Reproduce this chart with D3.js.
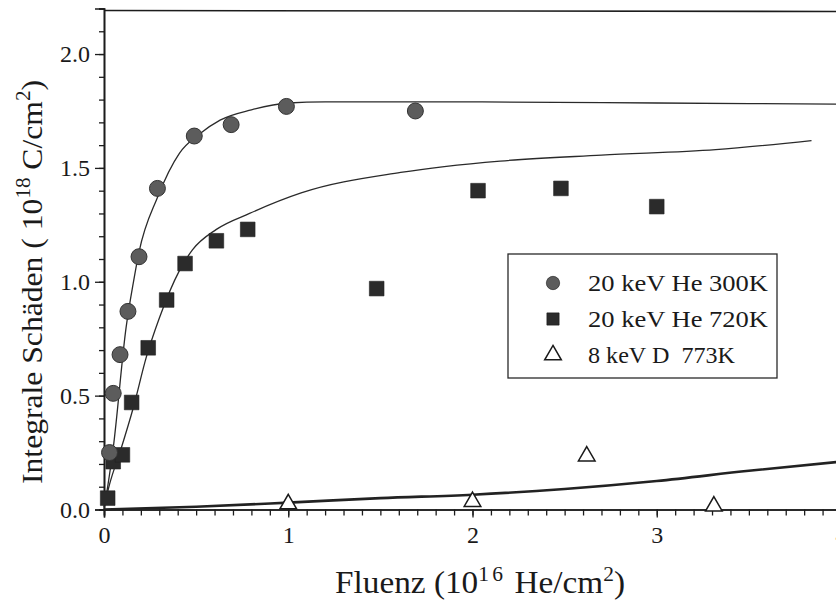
<!DOCTYPE html>
<html><head><meta charset="utf-8">
<script src="https://cdn.jsdelivr.net/npm/d3@7/dist/d3.min.js"></script>
<style>
html,body{margin:0;padding:0;background:#fff;}
svg{display:block;}
text{font-family:"Liberation Serif","Times New Roman",serif;fill:#1a1a1a;}
</style></head>
<body>
<svg id="chart" width="836" height="603"></svg>
<script>
// ---- data ----
const seriesNames = ["20 keV He 300K", "20 keV He 720K", "8 keV D  773K"];

const he300X = [0.03, 0.05, 0.087, 0.13, 0.19, 0.29, 0.49, 0.69, 0.99, 1.69];
const he300Y = [0.25, 0.51, 0.68, 0.87, 1.11, 1.41, 1.64, 1.69, 1.77, 1.75];

const he720X = [0.02, 0.05, 0.10, 0.15, 0.24, 0.34, 0.44, 0.61, 0.78, 1.48, 2.03, 2.48, 3.0];
const he720Y = [0.05, 0.21, 0.24, 0.47, 0.71, 0.92, 1.08, 1.18, 1.23, 0.97, 1.40, 1.41, 1.33];

const d773X = [1.0, 2.0, 2.62, 3.31];
const d773Y = [0.02, 0.03, 0.23, 0.01];

const fit300X = [0, 0.02, 0.05, 0.12, 0.16, 0.19, 0.29, 0.41, 0.52, 0.63, 0.8, 1.0, 1.2, 2.0, 3.0, 4.0];
const fit300Y = [0, 0.10, 0.27, 0.80, 1.00, 1.13, 1.37, 1.565, 1.65, 1.71, 1.755, 1.785, 1.79, 1.79, 1.785, 1.78];

const fit720X = [0, 0.03, 0.09, 0.16, 0.23, 0.30, 0.41, 0.48, 0.61, 0.79, 1.07, 1.61, 2.15, 2.70, 3.32, 3.84];
const fit720Y = [0.01, 0.11, 0.26, 0.45, 0.67, 0.84, 1.05, 1.14, 1.23, 1.30, 1.39, 1.48, 1.53, 1.556, 1.58, 1.62];

const fitDX = [0, 0.5, 1.0, 1.5, 2.0, 2.5, 3.0, 3.5, 4.0];
const fitDY = [0, 0.012, 0.03, 0.05, 0.065, 0.09, 0.125, 0.17, 0.21];

const xMajorTicks = [0, 1, 2, 3, 4];
const yMajorTicks = [0.0, 0.5, 1.0, 1.5, 2.0];

// ---- layout ----
const FONT = '"Liberation Serif","Times New Roman",serif';
const svg = d3.select("#chart");
const x = d3.scaleLinear().domain([0, 4]).range([104, 841]);
const y = d3.scaleLinear().domain([0, 2.2]).range([509.5, 8.5]);

const ink = "#1c1c1c";

// top frame line
svg.append("line").attr("x1", x(0)).attr("x2", 836).attr("y1", y(2.2)+2).attr("y2", y(2.2)+3)
  .attr("stroke", ink).attr("stroke-width", 1.6);

// x axis
const xMinor = d3.range(0, 41).map(i => i / 10);
const gx = svg.append("g").attr("transform", `translate(0,${y(0)})`);
gx.call(d3.axisBottom(x).tickValues(xMinor).tickSize(6).tickFormat(""));
gx.append("g").call(d3.axisBottom(x).tickValues(xMajorTicks).tickSize(8).tickFormat(d3.format("d")).tickPadding(8));
gx.selectAll("path").attr("stroke", ink).attr("stroke-width", 1.6);
gx.selectAll("line").attr("stroke", ink).attr("stroke-width", 1.3);
gx.selectAll("g").attr("font-family", FONT);
gx.selectAll("text").attr("font-size", 24).attr("font-family", FONT).style("font-family", FONT).attr("fill", ink);

// y axis
const yMinor = d3.range(0, 23).map(i => i / 10);
const gy = svg.append("g").attr("transform", `translate(${x(0)},0)`);
gy.call(d3.axisLeft(y).tickValues(yMinor).tickSize(5).tickFormat(""));
gy.append("g").call(d3.axisLeft(y).tickValues(yMajorTicks).tickSize(9).tickFormat(d3.format(".1f")).tickPadding(5));
gy.selectAll("path").attr("stroke", ink).attr("stroke-width", 1.6);
gy.selectAll("line").attr("stroke", ink).attr("stroke-width", 1.3);
gy.selectAll("g").attr("font-family", FONT);
gy.selectAll("text").attr("font-size", 24).attr("font-family", FONT).style("font-family", FONT).attr("fill", ink);

// fit lines
const line = d3.line().x(d => x(d[0])).y(d => y(d[1])).curve(d3.curveMonotoneX);
const zip = (a, b) => a.map((v, i) => [v, b[i]]);
svg.append("path").datum(zip(fit300X, fit300Y)).attr("d", line)
  .attr("fill", "none").attr("stroke", "#2a2a2a").attr("stroke-width", 1.3);
svg.append("path").datum(zip(fit720X, fit720Y)).attr("d", line)
  .attr("fill", "none").attr("stroke", "#2a2a2a").attr("stroke-width", 1.3);
svg.append("path").datum(zip(fitDX, fitDY)).attr("d", line)
  .attr("fill", "none").attr("stroke", "#222").attr("stroke-width", 2.6);

// markers
const circ = d3.symbol().type(d3.symbolCircle).size(200);
const sq = d3.symbol().type(d3.symbolSquare).size(215);
const tri = d3.symbol().type(d3.symbolTriangle).size(120);

svg.append("g").selectAll("path").data(zip(he720X, he720Y)).join("path")
  .attr("d", sq).attr("transform", d => `translate(${x(d[0])},${y(d[1])})`)
  .attr("fill", "#2b2b2b").attr("stroke", "#222").attr("stroke-width", 0.6);
svg.append("g").selectAll("path").data(zip(he300X, he300Y)).join("path")
  .attr("d", circ).attr("transform", d => `translate(${x(d[0])},${y(d[1])})`)
  .attr("fill", "#5c5c5c").attr("stroke", "#333").attr("stroke-width", 1);
svg.append("g").selectAll("path").data(zip(d773X, d773Y)).join("path")
  .attr("d", tri).attr("transform", d => `translate(${x(d[0])},${y(d[1]) - 1})`)
  .attr("fill", "#fff").attr("stroke", "#1a1a1a").attr("stroke-width", 1.5);

// legend
const lg = svg.append("g");
lg.append("rect").attr("x", 508).attr("y", 254).attr("width", 269).attr("height", 124)
  .attr("fill", "#fff").attr("stroke", "#2a2a2a").attr("stroke-width", 1.3);
const legFill = ["#5c5c5c", "#2b2b2b", "#fff"];
const legSym = [d3.symbol().type(d3.symbolCircle).size(140), d3.symbol().type(d3.symbolSquare).size(150), tri];
const legLen = [180, 180, 147];
seriesNames.forEach((name, i) => {
  const cy = 283 + i * 36;
  lg.append("path").attr("d", legSym[i]())
    .attr("transform", `translate(553,${cy})`)
    .attr("fill", legFill[i]).attr("stroke", "#1a1a1a").attr("stroke-width", i === 2 ? 1.5 : 0.6);
  lg.append("text").attr("x", 588).attr("y", cy + 8).attr("font-size", 24)
    .attr("font-family", FONT)
    .attr("textLength", legLen[i]).attr("lengthAdjust", "spacingAndGlyphs")
    .attr("xml:space", "preserve").text(name);
});

// axis titles
const xt = svg.append("text").attr("x", 335).attr("y", 593).attr("font-size", 31)
  .attr("font-family", FONT).attr("textLength", 290).attr("lengthAdjust", "spacingAndGlyphs");
xt.append("tspan").text("Fluenz (10");
xt.append("tspan").attr("dy", -12).attr("font-size", 20).attr("letter-spacing", 3).text("16");
xt.append("tspan").attr("dy", 12).text(" He/cm");
xt.append("tspan").attr("dy", -12).attr("font-size", 20).text("2");
xt.append("tspan").attr("dy", 12).text(")");

const yt = svg.append("text").attr("transform", "translate(42,484) rotate(-90)")
  .attr("font-size", 30).attr("font-family", FONT)
  .attr("textLength", 404).attr("lengthAdjust", "spacingAndGlyphs");
yt.append("tspan").text("Integrale Schäden ( 10");
yt.append("tspan").attr("dy", -12).attr("font-size", 20).text("18");
yt.append("tspan").attr("dy", 12).text(" C/cm");
yt.append("tspan").attr("dy", -12).attr("font-size", 20).text("2");
yt.append("tspan").attr("dy", 12).text(")");
</script>
</body></html>
